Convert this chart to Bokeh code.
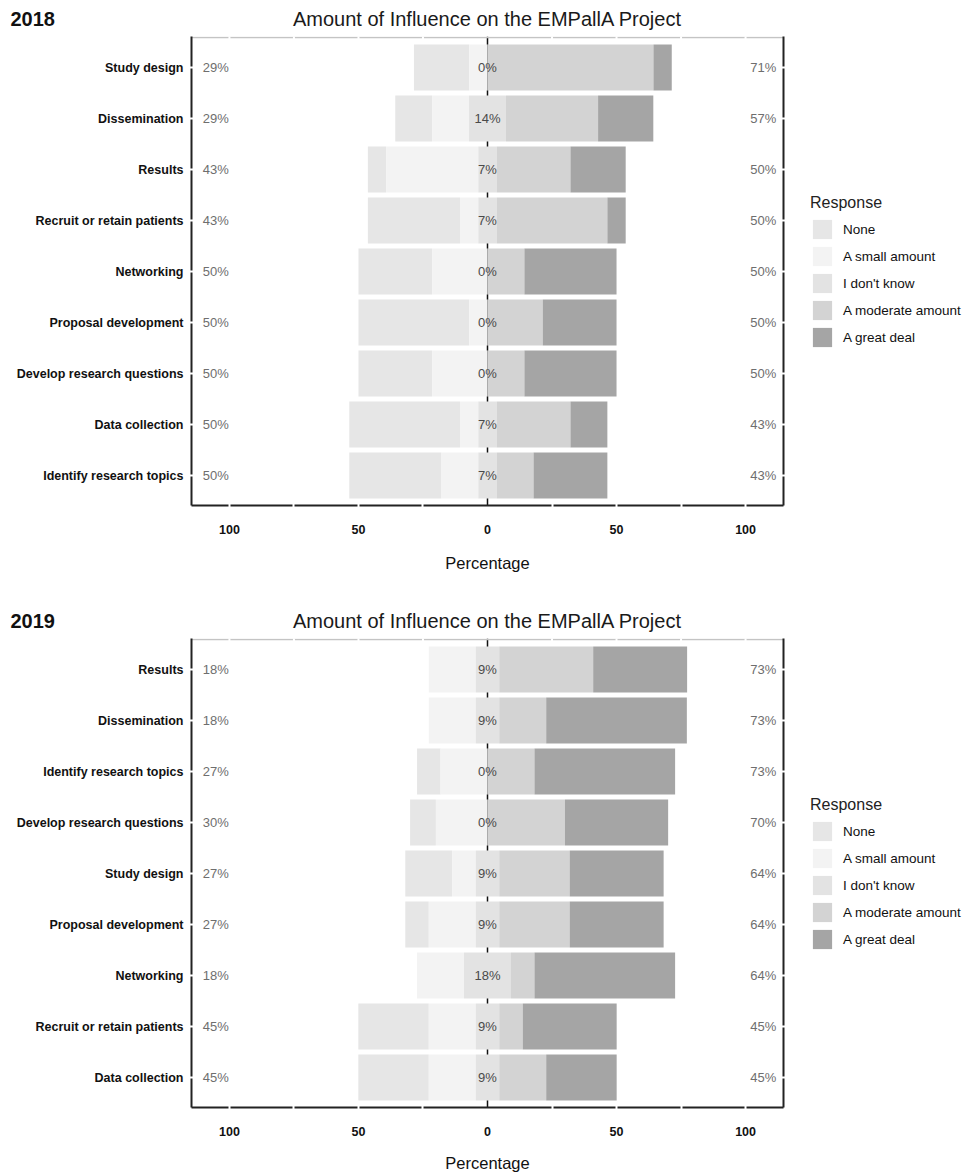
from bokeh.plotting import figure
from bokeh.models import (ColumnDataSource, Range1d, FixedTicker, LinearAxis,
                          Span, Legend, LegendItem)
from bokeh.layouts import column, row
from bokeh.core.properties import value
from bokeh.embed import file_html
from bokeh.resources import INLINE

FONT = "Liberation Sans"
RESPONSES = ["None", "A small amount", "I don't know", "A moderate amount", "A great deal"]
COLORS = ["#e6e6e6", "#f3f3f3", "#e3e3e3", "#d3d3d3", "#a5a5a5"]
TITLE = "Amount of Influence on the EMPallA Project"

# ---------------- 2018 (top to bottom) ----------------
items_2018 = ["Study design", "Dissemination", "Results", "Recruit or retain patients",
              "Networking", "Proposal development", "Develop research questions",
              "Data collection", "Identify research topics"]
none_2018 = [21.4, 14.3, 7.1, 35.7, 28.6, 42.9, 28.6, 42.9, 35.7]
small_2018 = [7.1, 14.3, 35.7, 7.1, 21.4, 7.1, 21.4, 7.1, 14.3]
dk_2018 = [0.0, 14.3, 7.1, 7.1, 0.0, 0.0, 0.0, 7.1, 7.1]
moderate_2018 = [64.3, 35.7, 28.6, 42.9, 14.3, 21.4, 14.3, 28.6, 14.3]
great_2018 = [7.1, 21.4, 21.4, 7.1, 35.7, 28.6, 35.7, 14.3, 28.6]
low_pct_2018 = [29, 29, 43, 43, 50, 50, 50, 50, 50]
mid_pct_2018 = [0, 14, 7, 7, 0, 0, 0, 7, 7]
high_pct_2018 = [71, 57, 50, 50, 50, 50, 50, 43, 43]

# ---------------- 2019 (top to bottom) ----------------
items_2019 = ["Results", "Dissemination", "Identify research topics",
              "Develop research questions", "Study design", "Proposal development",
              "Networking", "Recruit or retain patients", "Data collection"]
none_2019 = [0.0, 0.0, 9.1, 10.0, 18.2, 9.1, 0.0, 27.3, 27.3]
small_2019 = [18.2, 18.2, 18.2, 20.0, 9.1, 18.2, 18.2, 18.2, 18.2]
dk_2019 = [9.1, 9.1, 0.0, 0.0, 9.1, 9.1, 18.2, 9.1, 9.1]
moderate_2019 = [36.4, 18.2, 18.2, 30.0, 27.3, 27.3, 9.1, 9.1, 18.2]
great_2019 = [36.4, 54.5, 54.5, 40.0, 36.4, 36.4, 54.5, 36.4, 27.3]
low_pct_2019 = [18, 18, 27, 30, 27, 27, 18, 45, 45]
mid_pct_2019 = [9, 9, 0, 0, 9, 9, 18, 9, 9]
high_pct_2019 = [73, 73, 73, 70, 64, 64, 64, 45, 45]

X_TICKS = [-100, -50, 0, 50, 100]
X_TICK_LABELS = ["100", "50", "0", "50", "100"]
X_GAPS = [-100, -75, -50, -25, 25, 50, 75, 100]

PAGE_W = 965
HEADER_H = 36
LEG_W = 160
MAIN_W = PAGE_W - LEG_W
FRAME_W = 592
FRAME_H = 469
BORDER_L = 191
XMAX = 114.7
PAD = 0.088
TOP_EXTRA = 0.02


def header(year):
    h = figure(width=PAGE_W, height=HEADER_H, output_backend="svg", toolbar_location=None,
               x_range=Range1d(0, PAGE_W), y_range=Range1d(0, HEADER_H),
               x_axis_type=None, y_axis_type=None, min_border=0)
    h.outline_line_color = None
    h.background_fill_color = "white"
    h.border_fill_color = "white"
    src = ColumnDataSource(dict(x=[10], y=[HEADER_H - 18], t=[year]))
    h.text(x="x", y="y", text="t", source=src, text_align="left", text_baseline="middle",
           text_font=value(FONT), text_font_size="20px", text_font_style="bold",
           text_color="#111111")
    src2 = ColumnDataSource(dict(x=[BORDER_L + FRAME_W / 2], y=[HEADER_H - 18], t=[TITLE]))
    h.text(x="x", y="y", text="t", source=src2, text_align="center", text_baseline="middle",
           text_font=value(FONT), text_font_size="20px", text_color="#1a1a1a")
    return h


def legend_fig(height, legend_y):
    lf = figure(width=LEG_W, height=height, output_backend="svg", toolbar_location=None,
                x_range=Range1d(0, 1), y_range=Range1d(0, 1),
                x_axis_type=None, y_axis_type=None, min_border=0)
    lf.outline_line_color = None
    lf.background_fill_color = "white"
    lf.border_fill_color = "white"
    rends = []
    for color in COLORS:
        # zero-size bar: only its legend swatch is visible
        rends.append(lf.hbar(y=[0.5], left=[0.5], right=[0.5], height=0,
                             fill_color=color, line_color=None))
    legend = Legend(items=[LegendItem(label=lab, renderers=[r])
                           for lab, r in zip(RESPONSES, rends)],
                    location=(5, legend_y), title="Response",
                    title_text_font=FONT, title_text_font_size="16px",
                    title_text_font_style="normal", title_text_color="#222222",
                    title_standoff=5,
                    label_text_font=FONT, label_text_font_size="13.5px",
                    label_text_color="#111111",
                    glyph_width=24, glyph_height=24, label_height=24,
                    label_standoff=9, spacing=3, padding=0, margin=0,
                    border_line_color=None, background_fill_alpha=0)
    lf.add_layout(legend, "center")
    return lf


def panel(items, none, small, dk, moderate, great, low, mid, high,
          height, tick_standoff, label_standoff):
    n = len(items)
    ys = [n - 1 - i for i in range(n)]
    y0 = -0.5 - PAD
    y1 = n - 0.5 + PAD
    p = figure(width=MAIN_W, height=height, output_backend="svg", toolbar_location=None,
               x_range=Range1d(-XMAX, XMAX),
               y_range=Range1d(y0, y1 + TOP_EXTRA),
               min_border_left=BORDER_L, min_border_right=MAIN_W - BORDER_L - FRAME_W,
               min_border_top=0, min_border_bottom=height - FRAME_H)
    p.outline_line_color = None
    p.xgrid.visible = False
    p.ygrid.visible = False
    p.background_fill_color = "white"
    p.border_fill_color = "white"

    xa = p.xaxis[0]
    ya = p.yaxis[0]

    # centre reference line (behind bars)
    p.add_layout(Span(location=0, dimension="height", line_color="#111111",
                      line_width=1.5, level="underlay"))

    # stacked, diverging bars
    segs = []
    half = [d / 2 for d in dk]
    segs.append(([-(h + s + nn) for h, s, nn in zip(half, small, none)],
                 [-(h + s) for h, s in zip(half, small)]))
    segs.append(([-(h + s) for h, s in zip(half, small)], [-h for h in half]))
    segs.append(([-h for h in half], half[:]))
    segs.append((half[:], [h + m for h, m in zip(half, moderate)]))
    segs.append(([h + m for h, m in zip(half, moderate)],
                 [h + m + g for h, m, g in zip(half, moderate, great)]))
    for (lefts, rights), color in zip(segs, COLORS):
        src = ColumnDataSource(dict(y=ys, left=lefts, right=rights))
        p.hbar(y="y", left="left", right="right", height=0.9, source=src,
               fill_color=color, line_color=None)

    # top border (light grey with white gaps)
    p.segment(x0=[-XMAX], y0=[y1], x1=[XMAX], y1=[y1], line_color="#c4c4c4", line_width=1.5)
    p.rect(x=X_GAPS, y=[y1] * len(X_GAPS), width=2, height=6,
           width_units="screen", height_units="screen", fill_color="white", line_color=None)

    # percentage labels
    lab_src = ColumnDataSource(dict(
        y=ys,
        lo=[f"{v}%" for v in low], mid=[f"{v}%" for v in mid], hi=[f"{v}%" for v in high],
        xl=[-110.3] * n, xm=[0] * n, xr=[111.9] * n))
    p.text(x="xl", y="y", text="lo", source=lab_src, text_align="left",
           text_baseline="middle", text_font=value(FONT), text_font_size="13px",
           text_color="#6e6e6e")
    p.text(x="xm", y="y", text="mid", source=lab_src, text_align="center",
           text_baseline="middle", text_font=value(FONT), text_font_size="13px",
           text_color="#4a4a4a")
    p.text(x="xr", y="y", text="hi", source=lab_src, text_align="right",
           text_baseline="middle", text_font=value(FONT), text_font_size="13px",
           text_color="#6e6e6e")

    # left axis (categories)
    ya.ticker = FixedTicker(ticks=ys)
    ya.major_label_overrides = {y: name for y, name in zip(ys, items)}
    ya.axis_line_color = "#222222"
    ya.axis_line_width = 2
    ya.major_tick_line_color = "white"
    ya.major_tick_line_width = 2
    ya.major_tick_in = 3
    ya.major_tick_out = 3
    ya.minor_tick_line_color = None
    ya.major_label_standoff = 5
    ya.major_label_text_font = FONT
    ya.major_label_text_font_style = "bold"
    ya.major_label_text_font_size = "12.5px"
    ya.major_label_text_color = "#111111"

    # bottom axis
    xa.ticker = FixedTicker(ticks=X_TICKS, minor_ticks=X_GAPS)
    xa.major_label_overrides = {t: s for t, s in zip(X_TICKS, X_TICK_LABELS)}
    xa.axis_line_color = "#222222"
    xa.axis_line_width = 2
    xa.major_tick_line_color = None
    xa.major_tick_in = 0
    xa.major_tick_out = 0
    xa.minor_tick_line_color = "white"
    xa.minor_tick_line_width = 2
    xa.minor_tick_in = 3
    xa.minor_tick_out = 3
    xa.major_label_standoff = tick_standoff
    xa.major_label_text_font = FONT
    xa.major_label_text_font_style = "bold"
    xa.major_label_text_font_size = "12.5px"
    xa.major_label_text_color = "#111111"
    xa.axis_label = "Percentage"
    xa.axis_label_standoff = label_standoff
    xa.axis_label_text_font = FONT
    xa.axis_label_text_font_style = "normal"
    xa.axis_label_text_font_size = "16.5px"
    xa.axis_label_text_color = "#111111"

    # right border
    ra = LinearAxis(ticker=FixedTicker(ticks=[], minor_ticks=ys), axis_line_color="#222222",
                    axis_line_width=2, major_tick_line_color=None,
                    major_tick_in=0, major_tick_out=0,
                    minor_tick_line_color="white", minor_tick_line_width=2,
                    minor_tick_in=3, minor_tick_out=3)
    p.add_layout(ra, "right")
    return p


TOP_H = 602
BOT_H = 572

p1 = panel(items_2018, none_2018, small_2018, dk_2018, moderate_2018, great_2018,
           low_pct_2018, mid_pct_2018, high_pct_2018,
           height=TOP_H - HEADER_H, tick_standoff=16, label_standoff=17)
p2 = panel(items_2019, none_2019, small_2019, dk_2019, moderate_2019, great_2019,
           low_pct_2019, mid_pct_2019, high_pct_2019,
           height=BOT_H - HEADER_H, tick_standoff=16, label_standoff=15)

l1 = legend_fig(TOP_H - HEADER_H, 156)
l2 = legend_fig(BOT_H - HEADER_H, 156)

layout = column(header("2018"), row(p1, l1, spacing=0),
                header("2019"), row(p2, l2, spacing=0), spacing=0)
open("out.html", "w").write(file_html(layout, INLINE))
